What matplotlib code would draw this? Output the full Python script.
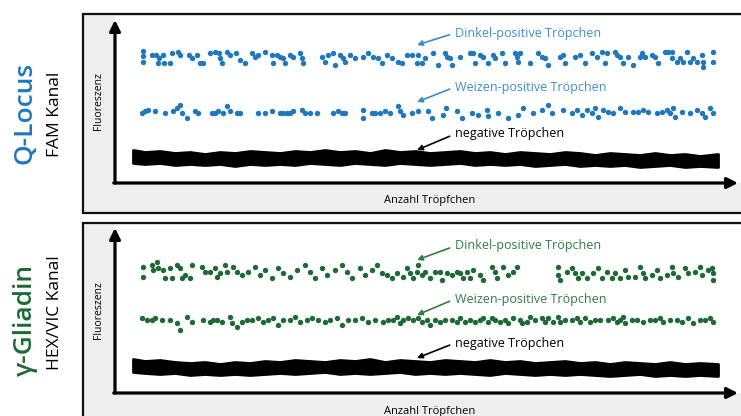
import numpy as np
import matplotlib
matplotlib.use("Agg")
import matplotlib.pyplot as plt
from matplotlib.patches import Rectangle

plt.rcParams['font.family'] = ['Open Sans', 'DejaVu Sans']

## Data (x = Anzahl Tropfchen, y = Fluoreszenz, arbitrary units)
# Q-Locus, FAM Kanal
fam_dinkel_x = [28, 28, 28, 37, 41, 44, 43, 48, 49, 55, 57, 63, 65, 74, 77, 82, 85, 88, 95, 100,
                104, 105, 107, 112, 115, 121, 125, 130, 137, 140, 143, 150, 157, 158, 162, 165, 168, 170, 175, 178,
                185, 187, 188, 207, 210, 213, 218, 220, 225, 228, 230, 235, 240, 248, 253, 258, 263, 267, 272, 277,
                283, 287, 292, 297, 302, 303, 307, 310, 318, 323, 330, 332, 335, 337, 345, 355, 358, 360, 365, 368,
                373, 378, 380, 387, 390, 400, 402, 403, 405, 415, 423, 427, 430, 433, 445, 448, 450, 460, 465, 470,
                477, 482, 487, 490, 492, 500, 502, 505, 508, 513, 518, 525, 527, 530, 537, 540, 543, 550, 553, 557,
                557, 562, 565, 568, 572, 575, 578, 582, 587, 588, 588, 598, 598]
fam_dinkel_y = [132, 127, 121, 128, 128, 125, 120, 128, 120, 120, 130, 131, 128, 128, 125, 128, 120, 120, 130, 131,
                130, 125, 120, 131, 128, 130, 123, 120, 130, 126, 128, 131, 128, 120, 128, 126, 125, 120, 128, 126,
                130, 125, 120, 126, 121, 128, 130, 118, 128, 125, 121, 128, 125, 126, 130, 126, 125, 120, 128, 125,
                121, 120, 128, 128, 120, 128, 120, 125, 130, 118, 130, 126, 125, 118, 126, 130, 130, 120, 128, 126,
                120, 128, 125, 130, 120, 130, 126, 121, 130, 120, 130, 126, 125, 118, 126, 128, 120, 126, 128, 120,
                130, 126, 131, 120, 130, 131, 128, 126, 120, 126, 118, 126, 130, 126, 128, 126, 120, 131, 131, 131,
                125, 121, 125, 121, 131, 121, 125, 121, 128, 121, 116, 131, 121]
fam_weizen_x = [27, 30, 33, 40, 50, 58, 62, 65, 67, 72, 80, 83, 97, 100, 103, 108, 112, 115, 122, 125,
                143, 150, 157, 165, 168, 172, 175, 178, 187, 190, 195, 202, 218, 223, 227, 230, 248, 248, 257, 260,
                265, 270, 275, 283, 285, 288, 297, 303, 313, 317, 328, 331, 342, 347, 357, 363, 372, 373, 383, 393,
                403, 408, 418, 427, 433, 437, 448, 457, 462, 467, 472, 477, 480, 483, 488, 493, 498, 505, 510, 518,
                523, 528, 533, 542, 547, 552, 555, 558, 560, 567, 575, 582, 587, 590, 595, 598]
fam_weizen_y = [70, 72, 73, 72, 70, 72, 75, 78, 70, 65, 72, 70, 70, 70, 72, 70, 77, 72, 70, 70,
                70, 70, 72, 70, 70, 70, 70, 72, 73, 70, 70, 70, 70, 72, 70, 70, 73, 65, 70, 70,
                70, 72, 70, 77, 72, 68, 70, 72, 72, 65, 68, 75, 72, 65, 70, 68, 73, 67, 70, 65,
                68, 75, 70, 73, 78, 70, 73, 70, 73, 68, 73, 70, 75, 66, 73, 71, 70, 75, 71, 71,
                71, 73, 71, 70, 71, 73, 70, 75, 66, 71, 70, 73, 70, 66, 75, 70]
fam_neg_x = [18, 30, 45, 60, 75, 90, 105, 120, 135, 150, 165, 180, 195, 210, 225, 240, 255, 270, 285, 300,
             315, 330, 345, 360, 375, 390, 405, 420, 435, 450, 465, 480, 495, 510, 525, 540, 555, 570, 585, 603]
fam_neg_hi = [33, 31, 32, 30, 31, 29, 31, 30, 32, 31, 30, 32, 31, 33, 31, 32, 30, 33, 31, 32,
              30, 31, 32, 30, 31, 29, 31, 30, 29, 31, 30, 28, 30, 29, 28, 30, 28, 29, 27, 29]
fam_neg_lo = [20, 19, 20, 18, 19, 18, 19, 17, 19, 18, 19, 18, 20, 19, 18, 20, 19, 18, 20, 19,
              18, 19, 20, 18, 19, 18, 19, 17, 18, 19, 17, 18, 17, 18, 16, 17, 18, 16, 17, 16]

# y-Gliadin, HEX/VIC Kanal
hex_dinkel_x = [28, 28, 37, 38, 42, 43, 48, 50, 55, 57, 62, 65, 67, 70, 75, 77, 87, 90, 95, 100,
                102, 105, 110, 112, 118, 122, 127, 133, 140, 145, 150, 157, 163, 168, 175, 182, 190, 195, 200, 207,
                212, 220, 227, 232, 237, 245, 250, 257, 262, 267, 272, 277, 282, 288, 292, 295, 298, 302, 303, 307,
                310, 315, 320, 325, 327, 332, 337, 342, 345, 348, 352, 355, 358, 365, 368, 377, 380, 382, 388, 393,
                398, 402, 443, 443, 445, 452, 457, 460, 463, 467, 472, 478, 483, 487, 492, 497, 500, 505, 510, 513,
                520, 525, 528, 530, 537, 542, 545, 552, 557, 558, 563, 570, 573, 580, 585, 587, 593, 597, 598, 598]
hex_dinkel_y = [126, 116, 128, 123, 131, 125, 123, 115, 125, 115, 128, 125, 115, 118, 115, 128, 126, 121, 121, 125,
                116, 120, 128, 121, 126, 121, 118, 121, 126, 118, 123, 115, 125, 120, 116, 123, 128, 121, 115, 125,
                118, 123, 128, 121, 115, 125, 118, 123, 128, 120, 118, 115, 120, 116, 125, 120, 115, 121, 128, 118,
                121, 115, 121, 121, 113, 120, 118, 121, 120, 115, 121, 115, 123, 118, 113, 126, 121, 115, 126, 118,
                121, 126, 126, 118, 113, 121, 125, 120, 115, 120, 115, 120, 125, 115, 121, 115, 120, 115, 123, 116,
                116, 126, 120, 115, 118, 123, 115, 118, 126, 120, 116, 125, 120, 121, 126, 118, 123, 125, 120, 113]
hex_weizen_x = [27, 32, 37, 40, 47, 55, 62, 65, 72, 77, 88, 95, 98, 102, 107, 115, 117, 122, 127, 132,
                137, 143, 148, 153, 158, 163, 168, 175, 180, 185, 192, 197, 203, 210, 215, 222, 227, 233, 240, 247,
                253, 260, 268, 273, 278, 282, 285, 288, 293, 298, 303, 307, 312, 315, 320, 325, 330, 337, 342, 345,
                350, 355, 360, 365, 368, 373, 377, 380, 385, 390, 393, 398, 405, 407, 412, 415, 420, 427, 430, 433,
                438, 443, 445, 450, 457, 462, 465, 470, 475, 480, 485, 493, 498, 502, 505, 508, 510, 517, 522, 528,
                535, 540, 545, 548, 555, 562, 567, 573, 578, 585, 590, 595, 598]
hex_weizen_y = [75, 73, 73, 75, 73, 73, 70, 63, 76, 71, 73, 71, 73, 73, 71, 76, 70, 66, 71, 73,
                73, 75, 71, 73, 75, 68, 73, 73, 76, 71, 73, 75, 73, 71, 73, 75, 68, 73, 73, 75,
                71, 73, 71, 73, 73, 76, 70, 73, 75, 73, 75, 71, 73, 68, 73, 71, 73, 73, 71, 75,
                71, 73, 71, 73, 75, 71, 75, 73, 71, 73, 70, 75, 73, 70, 71, 76, 73, 75, 71, 75,
                71, 76, 71, 73, 73, 75, 71, 75, 71, 73, 73, 73, 75, 71, 73, 76, 70, 73, 73, 71,
                73, 73, 75, 71, 73, 73, 71, 75, 70, 73, 73, 75, 71]
hex_neg_x = [18, 30, 45, 60, 75, 90, 105, 120, 135, 150, 165, 180, 195, 210, 225, 240, 255, 270, 285, 300,
             315, 330, 345, 360, 375, 390, 405, 420, 435, 450, 465, 480, 495, 510, 525, 540, 555, 570, 585, 603]
hex_neg_hi = [34, 32, 33, 31, 30, 31, 29, 31, 30, 32, 31, 33, 32, 31, 33, 32, 34, 31, 33, 32,
              31, 33, 32, 31, 33, 31, 32, 30, 31, 32, 30, 31, 29, 31, 30, 29, 31, 29, 30, 29]
hex_neg_lo = [21, 20, 19, 20, 18, 19, 18, 19, 18, 19, 20, 19, 20, 21, 19, 20, 19, 20, 21, 19,
              20, 19, 20, 19, 18, 20, 19, 18, 19, 18, 19, 18, 17, 18, 19, 17, 18, 17, 18, 17]

blue = "#1f78bd"
blue_txt = "#3b8ecb"
green = "#1d6a34"
green_txt = "#2f7d42"

W, H = 741, 416
def rect(x0, y0, x1, y1):
    return [x0 / W, 1 - y1 / H, (x1 - x0) / W, (y1 - y0) / H]

fig = plt.figure(figsize=(7.41, 4.16), dpi=100)

## Background: panel frames and titles (pixel coordinates)
bg = fig.add_axes([0, 0, 1, 1])
bg.set_xlim(0, W)
bg.set_ylim(H, 0)
bg.axis("off")
for top, bot, xaxis_y in [(14, 213, 183), (223, 425, 393)]:
    bg.add_patch(Rectangle((83, top), 680, bot - top, facecolor="#eeeeee",
                           edgecolor="#111111", lw=1.6))
    bg.add_patch(Rectangle((115, top + 1.5), 640, xaxis_y - top - 1.5,
                           facecolor="white", edgecolor="none"))

bg.text(25, 113, "Q-Locus", rotation=90, color=blue, fontsize=19, fontweight="semibold",
        ha="center", va="center")
bg.text(55, 114, "FAM Kanal", rotation=90, color="black", fontsize=12.5, ha="center", va="center")
bg.text(25, 320, "γ-Gliadin", rotation=90, color=green, fontsize=19, fontweight="semibold",
        ha="center", va="center")
bg.text(55, 313, "HEX/VIC Kanal", rotation=90, color="black", fontsize=12.5, ha="center", va="center")

panels = [
    (rect(115, 20, 738, 183), 163, fam_dinkel_x, fam_dinkel_y, fam_weizen_x, fam_weizen_y,
     fam_neg_x, fam_neg_hi, fam_neg_lo, blue, blue_txt,
     [(138, 150), (81, 96), (33, 49)]),
    (rect(115, 228, 738, 393), 165, hex_dinkel_x, hex_dinkel_y, hex_weizen_x, hex_weizen_y,
     hex_neg_x, hex_neg_hi, hex_neg_lo, green, green_txt,
     [(133, 147), (78, 94), (35, 50)]),
]

for (pos, ymax, dx, dy, wx, wy, nx, nhi, nlo, col, tcol, ann) in panels:
    ax = fig.add_axes(pos)
    ax.set_xlim(0, 623)
    ax.set_ylim(0, ymax)
    ax.axis("off")
    ax.patch.set_alpha(0)

    ax.scatter(dx, dy, s=15, color=col, linewidths=0)
    ax.scatter(wx, wy, s=15, color=col, linewidths=0)
    ax.fill_between(nx, nlo, nhi, color="black", lw=2, edgecolor="black", joinstyle="round")

    # axes with arrowheads
    ax.annotate("", xy=(0, 1), xytext=(0, 0), xycoords="axes fraction",
                arrowprops=dict(arrowstyle="-|>", lw=2.3, color="black", mutation_scale=16,
                                shrinkA=0, shrinkB=0))
    ax.annotate("", xy=(1, 0), xytext=(-0.002, 0), xycoords="axes fraction",
                arrowprops=dict(arrowstyle="-|>", lw=2.3, color="black", mutation_scale=16,
                                shrinkA=0, shrinkB=0))
    ax.text(-0.027, 0.5, "Fluoreszenz", rotation=90, transform=ax.transAxes,
            ha="center", va="center", fontsize=7.5)
    ax.text(0.505, -0.11, "Anzahl Tröpfchen", transform=ax.transAxes,
            ha="center", va="center", fontsize=8)

    labels = ["Dinkel-positive Tröpchen", "Weizen-positive Tröpchen", "negative Tröpchen"]
    colors = [tcol, tcol, "black"]
    for lab, c, (yh, yt) in zip(labels, colors, ann):
        ax.annotate(lab, xy=(302, yh), xytext=(340, yt), color=c, fontsize=9,
                    ha="left", va="center",
                    arrowprops=dict(arrowstyle="-|>", lw=1.2, color=c, mutation_scale=8,
                                    shrinkA=2, shrinkB=0, relpos=(0, 0.5)))

fig.savefig("out.png", dpi=100)
